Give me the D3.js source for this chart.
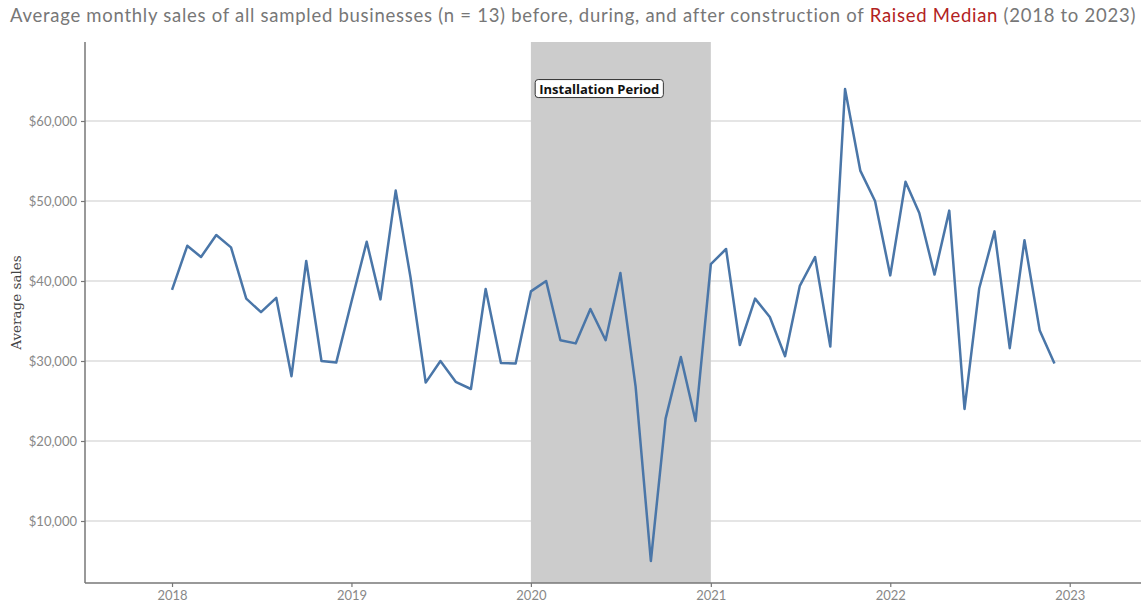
<!DOCTYPE html>
<html>
<head>
<meta charset="utf-8">
<script src="https://cdn.jsdelivr.net/npm/d3@7"></script>
<style>
  body { margin: 0; background: #fff; }
  svg { display: block; }
</style>
</head>
<body>
<svg id="chart" width="1143" height="605"></svg>
<script>
// monthly average sales, Jan 2018 - Dec 2022
const months = d3.range(60).map(i => new Date(2018, i, 1));
const sales = [
  38900, 44400, 43000, 45750, 44200, 37800, 36100, 37900, 28100, 42500, 30000, 29800,
  37400, 44900, 37700, 51300, 40500, 27300, 30000, 27400, 26500, 39000, 29750, 29700,
  38700, 40000, 32600, 32200, 36500, 32600, 41000, 26800, 5000, 22800, 30500, 22500,
  42100, 44000, 32000, 37800, 35500, 30600, 39400, 43000, 31800, 64000, 53800, 50000,
  40700, 52400, 48500, 40800, 48800, 24000, 39100, 46200, 31600, 45100, 33800, 29700
];
const yTicks = [10000, 20000, 30000, 40000, 50000, 60000];
const xTicks = [2018, 2019, 2020, 2021, 2022, 2023];
const installStart = new Date(2020, 0, 1);
const installEnd = new Date(2021, 0, 1);

const svg = d3.select("#chart");
const mLeft = 85, mRight = 1141, mTop = 42, mBottom = 583;

const x = d3.scaleTime()
    .domain([new Date(2017, 6, 8), new Date(2023, 4, 26)])
    .range([mLeft, mRight]);
const y = d3.scaleLinear()
    .domain([2250, 69875])
    .range([mBottom, mTop]);

// title
const title = svg.append("text")
    .attr("x", 573)
    .attr("y", 22)
    .attr("text-anchor", "middle")
    .style("font-family", "Lato, 'Open Sans', sans-serif")
    .style("font-size", "18.5px")
    .style("fill", "#777");
title.append("tspan").text("Average monthly sales of all sampled businesses (n = 13) before, during, and after construction of ");
title.append("tspan").text("Raised Median").style("fill", "#b22222");
title.append("tspan").text(" (2018 to 2023)");
// stretch to the width of the original title
const nChars = title.text().length;
const tw = title.node().getComputedTextLength();
title.style("letter-spacing", ((1126 - tw) / nChars) + "px");

// grid lines
svg.append("g").selectAll("line")
    .data(yTicks)
    .enter()
    .append("line")
    .attr("x1", mLeft)
    .attr("x2", mRight)
    .attr("y1", d => y(d))
    .attr("y2", d => y(d))
    .style("stroke", "#dcdcdc")
    .style("stroke-width", 1.5);

// installation period
svg.append("rect")
    .attr("x", x(installStart))
    .attr("y", mTop)
    .attr("width", x(installEnd) - x(installStart))
    .attr("height", mBottom - mTop)
    .style("fill", "#cccccc");

// line
const line = d3.line()
    .x((d, i) => x(months[i]))
    .y(d => y(d));

svg.append("path")
    .datum(sales)
    .attr("d", line)
    .style("fill", "none")
    .style("stroke", "#4a76a8")
    .style("stroke-width", 2.5)
    .style("stroke-linejoin", "round");

// label
const labelX = x(installStart) + (x(installEnd) - x(installStart)) * 0.38;
const labelY = y(64000);
const label = svg.append("g");
const labelText = label.append("text")
    .attr("x", labelX)
    .attr("y", labelY)
    .attr("text-anchor", "middle")
    .attr("dy", ".35em")
    .style("font-family", "'Open Sans', Lato, sans-serif")
    .style("font-weight", "bold")
    .style("font-size", "13px")
    .style("fill", "#111")
    .text("Installation Period");
const bb = labelText.node().getBBox();
label.insert("rect", "text")
    .attr("x", bb.x - 4)
    .attr("y", bb.y)
    .attr("width", bb.width + 8)
    .attr("height", bb.height)
    .attr("rx", 3)
    .style("fill", "#fff")
    .style("stroke", "#333")
    .style("stroke-width", 1);

// axes
const yAxis = svg.append("g")
    .attr("transform", `translate(${mLeft},0)`)
    .call(d3.axisLeft(y).tickValues(yTicks).tickSize(4).tickPadding(4)
        .tickFormat(d => "$" + d3.format(",")(d)));
const xAxis = svg.append("g")
    .attr("transform", `translate(0,${mBottom})`)
    .call(d3.axisBottom(x).tickValues(xTicks.map(v => new Date(v, 0, 1))).tickSize(4).tickPadding(4)
        .tickFormat(d3.timeFormat("%Y")));

[yAxis, xAxis].forEach(a => {
    a.select(".domain").style("stroke", "#777").style("stroke-width", 1.5);
    a.selectAll(".tick line").style("stroke", "#777").style("stroke-width", 1.2);
    a.selectAll(".tick text")
        .style("font-family", "Lato, 'Open Sans', sans-serif")
        .style("font-size", "13px")
        .style("fill", "#888");
});
xAxis.select(".domain").attr("d", `M${mLeft},0H${mRight}`);
yAxis.select(".domain").attr("d", `M0,${mTop}V${mBottom}`);

svg.append("text")
    .attr("transform", `translate(21,${(mTop + mBottom) / 2 - 10}) rotate(-90)`)
    .attr("text-anchor", "middle")
    .style("font-family", "'DejaVu Serif', 'Liberation Serif', serif")
    .style("font-size", "13.5px")
    .style("fill", "#444")
    .text("Average sales");
</script>
</body>
</html>
